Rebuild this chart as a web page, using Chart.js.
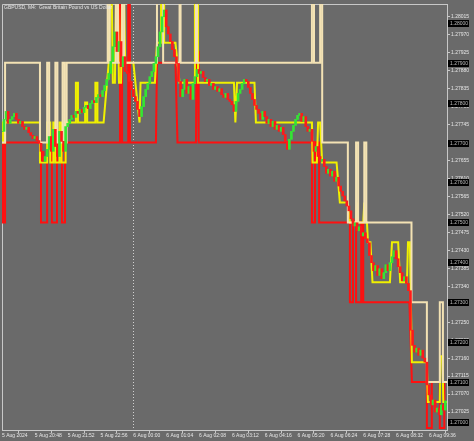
<!DOCTYPE html>
<html>
<head>
<meta charset="utf-8">
<script src="https://cdn.jsdelivr.net/npm/chart.js@4.4.1/dist/chart.umd.min.js"></script>
<style>
  html, body { margin: 0; padding: 0; background: #6a6a6a; }
  #chart { display: block; }
</style>
</head>
<body>
<canvas id="chart" width="474" height="441"></canvas>
<script>
/* ===============================
   GBPUSD M4 – chart data
   =============================== */

const TITLE = "GBPUSD, M4:  Great Britain Pound vs US Dollar";

// time axis: bar index (4 minute bars) -> label
const tickBars = [0, 16, 32, 48, 64, 80, 96, 112, 128, 144, 160, 176, 192, 208];
const tickLabels = [
  "5 Aug 2024", "5 Aug 20:48", "5 Aug 21:52", "5 Aug 22:56", "6 Aug 00:00",
  "6 Aug 01:04", "6 Aug 02:08", "6 Aug 03:12", "6 Aug 04:16", "6 Aug 05:20",
  "6 Aug 06:24", "6 Aug 07:28", "6 Aug 08:32", "6 Aug 09:36"
];
const separatorBars = [64];

// price axis
const priceTicks = [
  1.28015, 1.27970, 1.27925, 1.27880, 1.27835, 1.27790, 1.27745, 1.27700,
  1.27655, 1.27610, 1.27565, 1.27520, 1.27475, 1.27430, 1.27385, 1.27340,
  1.27295, 1.27250, 1.27205, 1.27160, 1.27115, 1.27070, 1.27025
];
const roundLevels = [1.28000, 1.27900, 1.27800, 1.27700, 1.27600, 1.27500,
  1.27400, 1.27300, 1.27200, 1.27100, 1.27000];

// candle closes, one per bar
const closes = [
  1.27728, 1.27758, 1.27778, 1.27748, 1.27758, 1.27765, 1.27773, 1.27758, 1.27748, 1.27753,
  1.27740, 1.27733, 1.27738, 1.27725, 1.27718, 1.27710, 1.27715, 1.27705, 1.27698, 1.27678,
  1.27653, 1.27665, 1.27683, 1.27715, 1.27678, 1.27733, 1.27690, 1.27665, 1.27728, 1.27703,
  1.27678, 1.27740, 1.27748, 1.27758, 1.27768, 1.27763, 1.27778, 1.27773, 1.27783, 1.27775,
  1.27788, 1.27793, 1.27785, 1.27798, 1.27805, 1.27800, 1.27813, 1.27820, 1.27815, 1.27830,
  1.27843, 1.27858, 1.27873, 1.27903, 1.27940, 1.27977, 1.27928, 1.27953, 1.27890, 1.27915,
  1.27878, 1.27873, 1.27853, 1.27833, 1.27815, 1.27803, 1.27783, 1.27765, 1.27790, 1.27815,
  1.27833, 1.27848, 1.27865, 1.27878, 1.27898, 1.27915, 1.27940, 1.27977, 1.28015, 1.28032,
  1.27990, 1.27972, 1.27953, 1.27933, 1.27915, 1.27898, 1.27853, 1.27815, 1.27833, 1.27858,
  1.27823, 1.27840, 1.27808, 1.27848, 1.27865, 1.27883, 1.27873, 1.27878, 1.27863, 1.27853,
  1.27858, 1.27843, 1.27848, 1.27833, 1.27840, 1.27828, 1.27835, 1.27820, 1.27813, 1.27823,
  1.27808, 1.27803, 1.27795, 1.27778, 1.27803, 1.27823, 1.27833, 1.27848, 1.27858, 1.27853,
  1.27838, 1.27823, 1.27808, 1.27793, 1.27783, 1.27773, 1.27758, 1.27778, 1.27765, 1.27748,
  1.27758, 1.27740, 1.27753, 1.27733, 1.27743, 1.27728, 1.27738, 1.27720, 1.27703, 1.27683,
  1.27708, 1.27728, 1.27743, 1.27758, 1.27768, 1.27773, 1.27753, 1.27765, 1.27740, 1.27728,
  1.27733, 1.27703, 1.27678, 1.27690, 1.27665, 1.27653, 1.27658, 1.27640, 1.27623, 1.27633,
  1.27616, 1.27628, 1.27603, 1.27613, 1.27591, 1.27578, 1.27566, 1.27554, 1.27541, 1.27529,
  1.27509, 1.27491, 1.27499, 1.27479, 1.27489, 1.27466, 1.27474, 1.27459, 1.27449, 1.27417,
  1.27399, 1.27379, 1.27392, 1.27367, 1.27384, 1.27359, 1.27374, 1.27394, 1.27379, 1.27399,
  1.27414, 1.27429, 1.27409, 1.27389, 1.27374, 1.27354, 1.27364, 1.27347, 1.27329, 1.27230,
  1.27192, 1.27175, 1.27185, 1.27167, 1.27180, 1.27160, 1.27150, 1.27093, 1.27068, 1.27043,
  1.27055, 1.27025, 1.27035, 1.27018, 1.27043, 1.27030, 1.27053
];

// band lines: [bar, price] vertices
const upperBand = [
  [0, 1.27700], [1.5, 1.27700], [1.5, 1.27900], [18.5, 1.27900], [18.5, 1.27700],
  [22, 1.27700], [22, 1.27900], [23, 1.27900], [23, 1.27700], [26, 1.27700],
  [26, 1.27900], [27, 1.27900], [27, 1.27700], [29.5, 1.27700], [29.5, 1.27900],
  [30.5, 1.27900], [30.5, 1.27700], [31.5, 1.27700], [31.5, 1.27900], [51.5, 1.27900],
  [51.5, 1.28060], [52.5, 1.28060], [52.5, 1.27900], [55.5, 1.27900], [55.5, 1.28060],
  [56.5, 1.28060], [56.5, 1.27900], [58.5, 1.27900], [58.5, 1.28060], [59.5, 1.28060],
  [59.5, 1.27900], [75.5, 1.27900], [75.5, 1.28060], [78.5, 1.28060], [78.5, 1.27900],
  [86.5, 1.27900], [86.5, 1.28060], [87, 1.28060], [87, 1.27900], [94.5, 1.27900],
  [94.5, 1.28060], [95, 1.28060], [95, 1.27900], [151, 1.27900], [151, 1.28060],
  [152, 1.28060], [152, 1.27900], [155, 1.27900], [155, 1.28060], [156, 1.28060],
  [156, 1.27700], [168.5, 1.27700], [168.5, 1.27500], [172.5, 1.27500], [172.5, 1.27700],
  [173.5, 1.27700], [173.5, 1.27500], [176.5, 1.27500], [176.5, 1.27700], [177.5, 1.27700],
  [177.5, 1.27500], [199.5, 1.27500], [199.5, 1.27300], [207, 1.27300], [207, 1.27100],
  [213.3, 1.27100], [213.3, 1.27300], [214.8, 1.27300], [214.8, 1.27100], [217, 1.27100]
];

const middleBand = [
  [0, 1.27750], [0.5, 1.27750], [0.5, 1.27700], [1.5, 1.27700], [1.5, 1.27750],
  [18.5, 1.27750], [18.5, 1.27650], [22, 1.27650], [22, 1.27750], [23.5, 1.27750],
  [23.5, 1.27650], [25, 1.27650], [25, 1.27750], [26, 1.27750], [26, 1.27650],
  [28, 1.27650], [28, 1.27750], [29, 1.27750], [29, 1.27650], [31, 1.27650],
  [31, 1.27750], [36, 1.27750], [36, 1.27850], [37, 1.27850], [37, 1.27750],
  [40.5, 1.27750], [40.5, 1.27800], [41.5, 1.27800], [41.5, 1.27750], [45.5, 1.27750],
  [45.5, 1.27850], [46.5, 1.27850], [46.5, 1.27750], [49.5, 1.27750], [52, 1.27900],
  [52.5, 1.28060], [53.5, 1.28060], [54, 1.27850], [55, 1.27850], [55.5, 1.28060],
  [56.5, 1.28060], [57, 1.27850], [58, 1.27850], [58.5, 1.28060], [59.5, 1.28060],
  [60, 1.27900], [64, 1.27900], [67, 1.27750], [67.5, 1.27850], [74.5, 1.27850],
  [75.5, 1.27950], [77.5, 1.27950], [77.5, 1.28060], [79, 1.28060], [79, 1.27950],
  [84.5, 1.27950], [86.5, 1.27850], [94, 1.27850], [94, 1.28060], [95.5, 1.28060],
  [95.5, 1.27850], [113, 1.27850], [113.7, 1.27750], [114.5, 1.27850], [123, 1.27850],
  [123.7, 1.27750], [151, 1.27750], [151.3, 1.27650], [153.4, 1.27650], [154, 1.27750],
  [155, 1.27750], [156, 1.27650], [163, 1.27650], [164.6, 1.27550], [168.5, 1.27550],
  [169.5, 1.27500], [172.5, 1.27500], [173, 1.27550], [173.5, 1.27500], [176, 1.27500],
  [176.5, 1.27550], [177, 1.27500], [177.8, 1.27500], [178.3, 1.27450], [179.5, 1.27450],
  [180.5, 1.27350], [189, 1.27350], [190, 1.27450], [193, 1.27450], [194, 1.27350],
  [197.3, 1.27350], [197.8, 1.27450], [198.7, 1.27450], [199.7, 1.27150], [207, 1.27150],
  [207.5, 1.27050], [213.3, 1.27050], [213.6, 1.27165], [214.6, 1.27165], [215, 1.27050],
  [217, 1.27050]
];

const lowerBand = [
  [0, 1.27700], [0.5, 1.27700], [0.5, 1.27500], [1.5, 1.27500], [1.5, 1.27700],
  [19, 1.27700], [19, 1.27500], [22, 1.27500], [22, 1.27700], [24.3, 1.27700],
  [24.3, 1.27500], [26.8, 1.27500], [26.8, 1.27700], [29.2, 1.27700], [29.2, 1.27500],
  [30.7, 1.27500], [30.7, 1.27700], [57.5, 1.27700], [57.5, 1.28060], [58.5, 1.28060],
  [58.5, 1.27700], [61.5, 1.27700], [61.5, 1.28060], [62.3, 1.28060], [62.3, 1.27700],
  [75, 1.27700], [75.5, 1.27900], [84.5, 1.27900], [85.5, 1.27700], [94.5, 1.27700],
  [94.8, 1.27930], [95.5, 1.27930], [95.8, 1.27700], [151, 1.27700], [151, 1.27500],
  [152.5, 1.27500], [152.5, 1.27700], [154.5, 1.27700], [154.5, 1.27500], [169.5, 1.27500],
  [169.5, 1.27300], [171, 1.27300], [171, 1.27500], [172.5, 1.27500], [172.5, 1.27300],
  [175, 1.27300], [175, 1.27500], [176, 1.27500], [176, 1.27300], [198.5, 1.27300],
  [199.7, 1.27100], [207, 1.27100], [207, 1.26985], [209.4, 1.26985], [209.4, 1.27100],
  [213.3, 1.27100], [213.3, 1.26985], [215.5, 1.26985], [215.5, 1.27100], [217, 1.27100]
];

/* ========= STYLE ========= */
const BG = "#6a6a6a";
const FG = "#e6e6e6";
const AXIS = "#c8c8c8";
const FONT = { family: "'Liberation Sans', Arial, sans-serif", size: 5 };

/* ========= DECOR PLUGIN ========= */
const mtDecor = {
  id: "mtDecor",
  beforeDraw(chart) {
    const c = chart.ctx;
    c.save();
    c.fillStyle = BG;
    c.fillRect(0, 0, chart.width, chart.height);
    c.restore();
  },
  beforeDatasetsDraw(chart) {
    const c = chart.ctx;
    const a = chart.chartArea;
    const xs = chart.scales.x;
    c.save();
    // frame top/left
    c.strokeStyle = AXIS;
    c.lineWidth = 1;
    c.beginPath();
    c.moveTo(a.left + 0.5, a.bottom);
    c.lineTo(a.left + 0.5, a.top + 0.5);
    c.lineTo(a.right, a.top + 0.5);
    c.stroke();
    // day separator
    c.setLineDash([1, 2]);
    c.strokeStyle = "#d0d0d0";
    separatorBars.forEach(b => {
      const px = Math.round(xs.getPixelForValue(b)) + 0.5;
      c.beginPath();
      c.moveTo(px, a.top);
      c.lineTo(px, a.bottom);
      c.stroke();
    });
    c.restore();
  },
  afterDraw(chart) {
    const c = chart.ctx;
    const a = chart.chartArea;
    const ys = chart.scales.y;
    c.save();
    c.font = FONT.size + "px " + FONT.family;
    c.textBaseline = "middle";
    // title
    c.fillStyle = FG;
    c.fillText(TITLE, a.left + 2, a.top + 4);
    // round level boxes on price axis
    roundLevels.forEach(v => {
      const py = Math.round(ys.getPixelForValue(v));
      c.fillStyle = "#000000";
      c.fillRect(a.right + 1, py - 3, 21, 7);
      c.fillStyle = "#bdbdbd";
      c.fillText(v.toFixed(5), a.right + 3, py + 0.5);
    });
    c.restore();
  }
};

/* ========= BUILD DATASETS ========= */
function candleData() {
  return closes.map((c, i) => ({ x: i, y: [i ? closes[i - 1] : c, c] }));
}

function candleColors() {
  return closes.map((c, i) => (i && c < closes[i - 1]) ? "#ff1a1a" : "#33e633");
}

function bandData(list) {
  return list.map(p => ({ x: p[0], y: p[1] }));
}

function lineSet(label, list, color, order) {
  return {
    type: "line",
    label,
    data: bandData(list),
    borderColor: color,
    borderWidth: 2,
    pointRadius: 0,
    tension: 0,
    fill: false,
    order
  };
}

/* ========= CHART ========= */
const ctx = document.getElementById("chart").getContext("2d");

new Chart(ctx, {
  type: "bar",
  data: {
    datasets: [
      lineSet("Upper", upperBand, "#f3e2b4", 1),
      lineSet("Middle", middleBand, "#f0f000", 2),
      lineSet("Lower", lowerBand, "#ff1010", 3),
      {
        type: "bar",
        label: "GBPUSD",
        data: candleData(),
        backgroundColor: candleColors(),
        barThickness: 2,
        grouped: false,
        order: 0
      }
    ]
  },
  options: {
    responsive: false,
    animation: false,
    devicePixelRatio: 1,
    layout: { padding: { left: 2, top: 2, right: 0, bottom: 0 } },
    plugins: {
      legend: { display: false },
      tooltip: { enabled: false }
    },
    scales: {
      x: {
        type: "linear",
        min: 0,
        max: 216.8,
        offset: false,
        afterBuildTicks: s => { s.ticks = tickBars.map(v => ({ value: v })); },
        afterFit: s => { s.height = 11; },
        grid: { drawOnChartArea: false, color: AXIS, tickLength: 3 },
        border: { color: AXIS },
        ticks: {
          autoSkip: false,
          maxRotation: 0,
          align: "start",
          padding: 0,
          color: FG,
          font: FONT,
          callback: v => tickLabels[tickBars.indexOf(v)]
        }
      },
      y: {
        type: "linear",
        position: "right",
        min: 1.26980,
        max: 1.28047,
        afterBuildTicks: s => { s.ticks = priceTicks.map(v => ({ value: v })); },
        afterFit: s => { s.width = 27; },
        grid: { drawOnChartArea: false, color: AXIS, tickLength: 3 },
        border: { color: AXIS },
        ticks: {
          autoSkip: false,
          padding: 1,
          color: FG,
          font: FONT,
          callback: v => v.toFixed(5)
        }
      }
    }
  },
  plugins: [mtDecor]
});
</script>
</body>
</html>
